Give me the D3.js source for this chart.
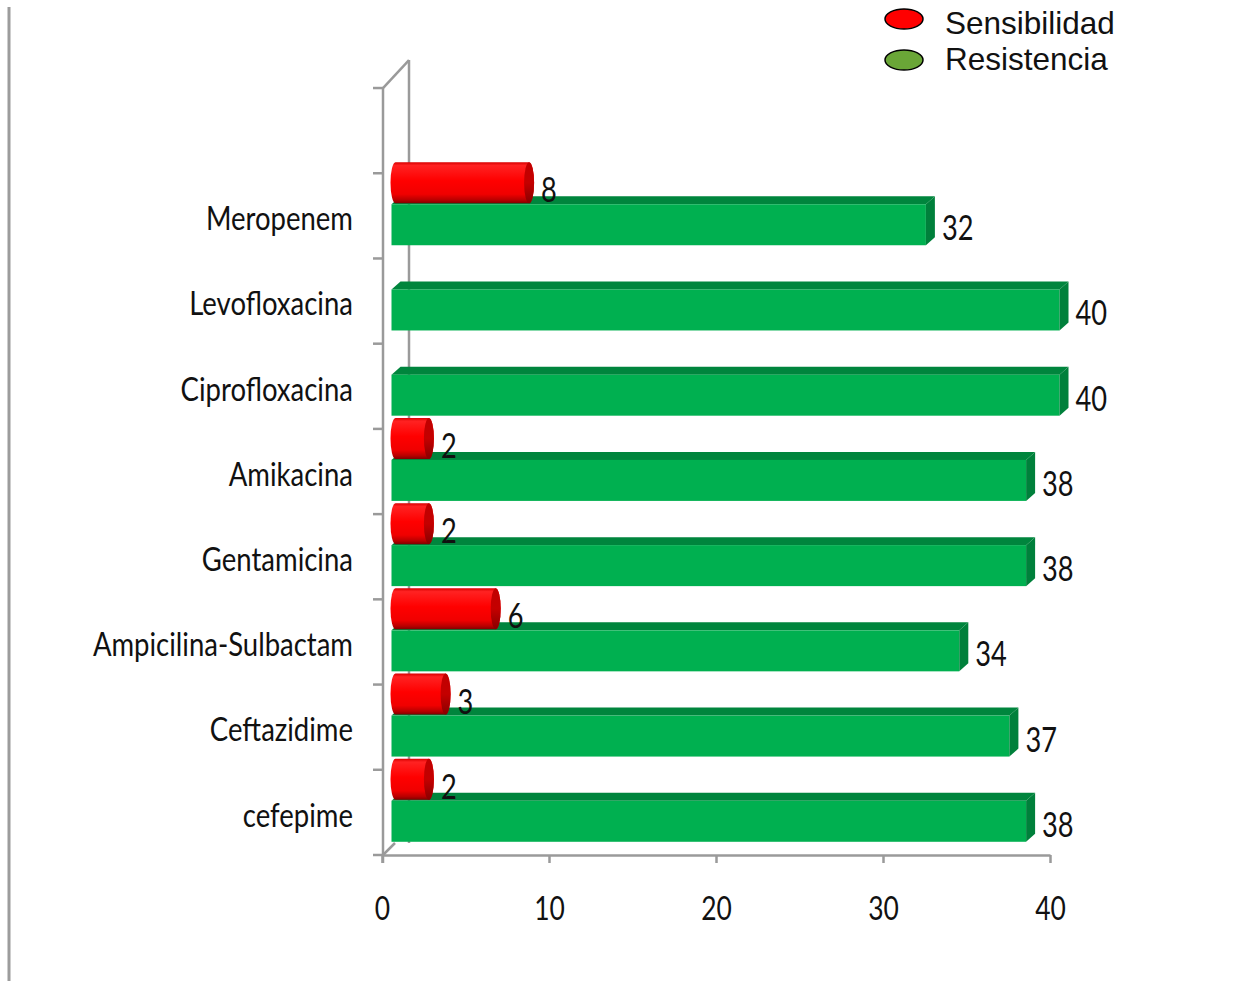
<!DOCTYPE html>
<html>
<head>
<meta charset="utf-8">
<script src="https://cdn.jsdelivr.net/npm/d3@7"></script>
<style>
  html, body { margin: 0; padding: 0; background: #fff; }
  svg { display: block; }
</style>
</head>
<body>
<svg id="chart" width="1248" height="981"></svg>
<script>
// Antibiotic susceptibility: counts of sensitive vs resistant isolates
const categories = ["Meropenem", "Levofloxacina", "Ciprofloxacina", "Amikacina",
                    "Gentamicina", "Ampicilina-Sulbactam", "Ceftazidime", "cefepime"];
const sensibilidad = [8, 0, 0, 2, 2, 6, 3, 2];
const resistencia  = [32, 40, 40, 38, 38, 34, 37, 38];
const seriesNames  = ["Sensibilidad", "Resistencia"];
const xTicks       = [0, 10, 20, 30, 40];

const svg = d3.select("#chart");
const axisColor = "#9a9a9a";
const labelFont = "Lato, 'Open Sans', sans-serif";

// Scales: value axis and category bands (plus one empty band on top of the wall)
const x = d3.scaleLinear().domain([0, 40]).range([382, 1050]);
const y = d3.scaleBand().domain(categories).range([173.25, 855]).padding(0);
const step = y.step();
const floorY = y.range()[1];
const wallTop = y.range()[0] - step;

// Depth geometry of the 3D look
const front = 9.5;      // bars sit slightly in front of the axis plane
const dX = 9, dY = 8;   // bar depth

// Gradients
const defs = svg.append("defs");
const gCyl = defs.append("linearGradient").attr("id", "cylBody")
  .attr("x1", 0).attr("y1", 0).attr("x2", 0).attr("y2", 1);
[[0, "#d80000"], [0.08, "#ff2222"], [0.45, "#ff0000"], [0.78, "#f00000"], [0.92, "#b80000"], [1, "#800000"]]
  .forEach(([o, c]) => gCyl.append("stop").attr("offset", o).attr("stop-color", c));
const gCap = defs.append("linearGradient").attr("id", "cylCap")
  .attr("x1", 0).attr("y1", 0).attr("x2", 0).attr("y2", 1);
[[0, "#c00000"], [0.5, "#c40000"], [1, "#880000"]]
  .forEach(([o, c]) => gCap.append("stop").attr("offset", o).attr("stop-color", c));

// Outer left rule
svg.append("line").attr("x1", 9).attr("x2", 9).attr("y1", 7).attr("y2", 981)
  .attr("stroke", "#9c9c9c").attr("stroke-width", 3);

// Back wall edges
const wall = svg.append("g").attr("stroke", axisColor).attr("stroke-width", 2.5).attr("fill", "none");
wall.append("line").attr("x1", x(0) + 27).attr("x2", x(0) + 27)
  .attr("y1", wallTop - 28).attr("y2", floorY - 12);
wall.append("line").attr("x1", x(0) + 1).attr("y1", wallTop)
  .attr("x2", x(0) + 27).attr("y2", wallTop - 28);
wall.append("line").attr("x1", x(0) + 1).attr("y1", floorY)
  .attr("x2", x(0) + 13).attr("y2", floorY - 12);

// Bars
const bands = svg.append("g").selectAll("g").data(categories).join("g");

bands.each(function (cat, i) {
  const g = d3.select(this);
  const T = y(cat);
  // Resistencia: green box
  const v = resistencia[i];
  const x0 = x(0) + front, x1 = x(v) + front;
  const top = T + 31, bot = T + 72;
  g.append("path")
    .attr("d", `M${x0},${top}L${x0 + dX},${top - dY}L${x1 + dX},${top - dY}L${x1},${top}Z`)
    .attr("fill", "#00853d");
  g.append("rect").attr("x", x0).attr("y", top).attr("width", x1 - x0).attr("height", bot - top)
    .attr("fill", "#00b050");
  g.append("path")
    .attr("d", `M${x1},${top}L${x1 + dX},${top - dY}L${x1 + dX},${bot - dY}L${x1},${bot}Z`)
    .attr("fill", "#00803b");
  g.append("text").attr("class", "val")
    .attr("transform", `translate(${x1 + dX + 7},${T + 67}) scale(0.8,1)`)
    .text(v);

  // Sensibilidad: red cylinder
  const s = sensibilidad[i];
  if (s > 0) {
    const rx = 5, ry = 20.5, cy = T + 9.5;
    const xl = x(0) + 13.5, xr = x(s) + 13.5;
    g.append("path")
      .attr("d", `M${xl},${cy - ry}L${xr},${cy - ry}A${rx},${ry} 0 0 1 ${xr},${cy + ry}` +
                 `L${xl},${cy + ry}A${rx},${ry} 0 0 1 ${xl},${cy - ry}Z`)
      .attr("fill", "url(#cylBody)");
    g.append("ellipse").attr("cx", xr).attr("cy", cy).attr("rx", rx).attr("ry", ry)
      .attr("fill", "url(#cylCap)");
    g.append("text").attr("class", "val")
      .attr("transform", `translate(${xr + rx + 7},${T + 29}) scale(0.8,1)`)
      .text(s);
  }
});

svg.selectAll("text.val")
  .attr("font-family", labelFont).attr("font-size", 34).attr("fill", "#111");

// Category axis (front edge)
const yAxis = svg.append("g");
yAxis.append("line").attr("x1", x(0) + 1).attr("x2", x(0) + 1)
  .attr("y1", wallTop).attr("y2", floorY + 8)
  .attr("stroke", axisColor).attr("stroke-width", 2.5);
const boundaries = d3.range(categories.length + 2).map(k => wallTop + k * step);
yAxis.selectAll("line.tick").data(boundaries).join("line").attr("class", "tick")
  .attr("x1", x(0) - 9).attr("x2", x(0) + 1).attr("y1", d => d).attr("y2", d => d)
  .attr("stroke", axisColor).attr("stroke-width", 2.5);
yAxis.selectAll("text").data(categories).join("text")
  .attr("transform", d => `translate(353,${y(d) + y.bandwidth() / 2 + 3}) scale(0.86,1)`)
  .attr("text-anchor", "end").attr("dy", "0.35em")
  .attr("font-family", labelFont).attr("font-size", 32).attr("fill", "#111")
  .text(d => d);

// Value axis
const xAxis = svg.append("g").attr("transform", `translate(0,${floorY})`)
  .call(d3.axisBottom(x).tickValues(xTicks).tickSize(8).tickSizeOuter(0));
xAxis.select(".domain").attr("stroke", axisColor).attr("stroke-width", 2.5);
xAxis.selectAll(".tick line").attr("stroke", axisColor).attr("stroke-width", 2.5);
xAxis.selectAll(".tick text")
  .attr("font-family", labelFont).attr("font-size", 33).attr("fill", "#111")
  .attr("y", 0).attr("dy", 0)
  .attr("transform", "translate(0,65) scale(0.8,1)");

// Legend
const legendColors = ["#ff0000", "#6aa637"];
const legend = svg.append("g");
seriesNames.forEach((name, i) => {
  legend.append("ellipse").attr("cx", 904).attr("cy", 19 + i * 41).attr("rx", 19).attr("ry", 10)
    .attr("fill", legendColors[i]).attr("stroke", "#000").attr("stroke-width", 1.5);
  legend.append("text").attr("x", 945).attr("y", 34 + i * 36)
    .attr("font-family", "'Liberation Sans', Arial, sans-serif").attr("font-size", 31.5)
    .attr("fill", "#111").text(name);
});
</script>
</body>
</html>
